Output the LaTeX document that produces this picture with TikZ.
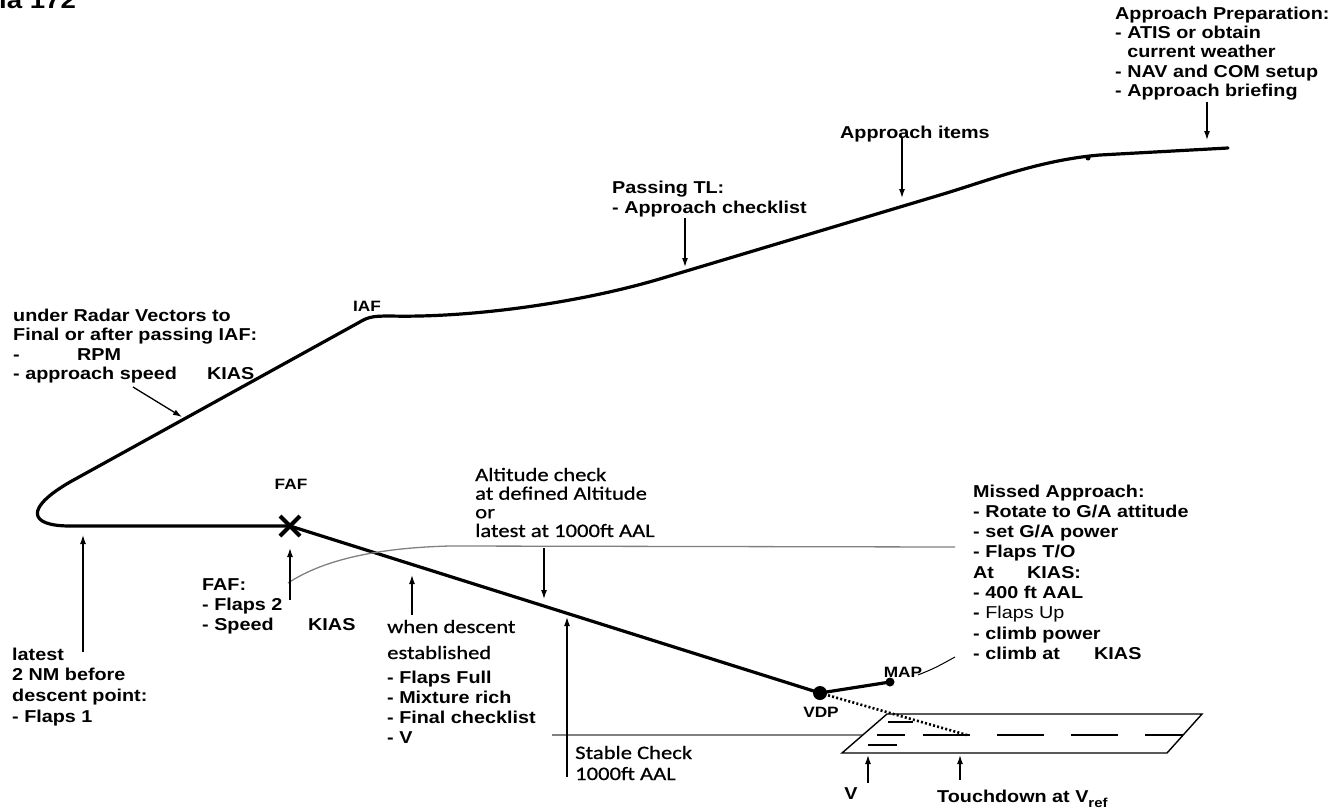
\documentclass[tikz,border=0pt]{standalone}
\usepackage{fontspec}
\setmainfont{Liberation Sans}[FakeStretch=1.15]
\newfontfamily\calib{Carlito}[FakeStretch=1.19,FakeBold=0.6]
\usetikzlibrary{arrows.meta}

\newcommand{\notelines}[1]{\begin{tabular}[t]{@{}l@{}}#1\end{tabular}}

\tikzset{
  flight/.style={line width=3.2pt, line cap=round, line join=round},
  pointer/.style={line width=1.3pt, -{Latex[length=9pt,width=6pt]}},
  altline/.style={line width=1.3pt, black!50},
  note/.style={inner sep=0pt, anchor=base west,
    font=\fontsize{17.2}{20}\selectfont\bfseries},
  calnote/.style={inner sep=0pt, anchor=base west,
    font=\calib\fontsize{19}{18.5}\selectfont},
  fixname/.style={inner sep=0pt, font=\fontsize{15}{15}\selectfont\bfseries},
}

\begin{document}
\begin{tikzpicture}[x=1pt,y=-1pt]
  \useasboundingbox (0,0) rectangle (1336,809);

  \coordinate (faf) at (290,526);
  \coordinate (vdp) at (820,693);
  \coordinate (map) at (890,682);

  % approach path down to the FAF
  \draw[flight] (faf) -- (70,526) .. controls (28,526) and (25,508) .. (70,482)
    -- (358,323) .. controls (368,317) and (372,316) .. (390,316)
    .. controls (470,318) and (580,303) .. (663,278) -- (940,195)
    .. controls (990,180) and (1040,160) .. (1100,155) -- (1228,148);
  \fill (1088,158) circle[radius=2.5pt];

  % final and missed approach
  \draw[flight] (faf) -- (vdp) -- (map);
  \draw[line width=4pt] (faf) ++(-10,-10) -- ++(20,20)
    (faf) ++(-10,10) -- ++(20,-20);
  \fill (vdp) circle[radius=7pt];
  \fill (map) circle[radius=4.5pt];
  \draw[line width=1pt] (918,675) .. controls (935,668) .. (955,657);
  \draw[line width=2.6pt, dash pattern=on 2pt off 2.2pt] (vdp) -- (967,735);

  % altitudes
  \draw[altline] (288,583) .. controls (320,562) and (370,548) .. (450,546)
    -- (955,547);
  \draw[altline] (552,735) -- (863,735);

  % runway
  \draw[line width=1.4pt] (842,753) -- (887,714) -- (1202,714) -- (1167,753) -- cycle;
  \draw[line width=1.5pt, dash pattern=on 47pt off 27pt] (923,735) -- (1183,735);
  \draw[line width=2.6pt] (888,722) -- (913,722) (877,735) -- (905,735)
    (868,745) -- (897,745);

  % fix names
  \node[fixname] (iafname) at (367,306) {IAF};
  \node[fixname] (fafname) at (291,484) {FAF};
  \node[fixname] (vdpname) at (821,712) {VDP};
  \node[fixname] (mapname) at (903,672) {MAP};

  % notes
  \node[note, font=\fontsize{24}{24}\selectfont\bfseries] (title) at (-1,8) {ia 172};
  \node[note, font=\fontsize{17.2}{19.4}\selectfont\bfseries] (prep) at (1115,19)
    {\notelines{Approach Preparation:\\- ATIS or obtain\\\phantom{- }current weather\\
     - NAV and COM setup\\- Approach briefing}};
  \node[note] (items) at (840,138) {Approach items};
  \node[note] (passtl) at (612,193) {\notelines{Passing TL:\\- Approach checklist}};
  \node[note, font=\fontsize{17.2}{19.6}\selectfont\bfseries] (radar) at (13,321)
    {\notelines{under Radar Vectors to\\Final or after passing IAF:\\
     \makebox[64pt][l]{-}RPM\\\makebox[194pt][l]{- approach speed}KIAS}};
  \node[note, font=\fontsize{17.2}{20.7}\selectfont\bfseries] (latest) at (12,660)
    {\notelines{latest\\2 NM before\\descent point:\\- Flaps 1}};
  \node[note] (fafnote) at (202,590)
    {\notelines{FAF:\\- Flaps 2\\\makebox[106pt][l]{- Speed}KIAS}};
  \node[calnote, font=\calib\fontsize{19}{26}\selectfont] (whendesc) at (387,633)
    {\notelines{when descent\\established}};
  \node[note] (desclist) at (387,683)
    {\notelines{- Flaps Full\\- Mixture rich\\- Final checklist\\- V}};
  \node[calnote] (altcheck) at (475,481)
    {\notelines{Altitude check\\at defined Altitude\\or\\latest at 1000ft AAL}};
  \node[calnote, font=\calib\fontsize{19}{21}\selectfont] (stable) at (575,759)
    {\notelines{Stable Check\\1000ft AAL}};
  \node[note, font=\fontsize{17.2}{20.3}\selectfont\bfseries] (missed) at (973,497)
    {\notelines{Missed Approach:\\- Rotate to G/A attitude\\- set G/A power\\- Flaps T/O\\
     \makebox[54pt][l]{At}KIAS:\\- 400 ft AAL\\- {\mdseries Flaps Up}\\- climb power\\
     \makebox[121pt][l]{- climb at}KIAS}};
  \node[fixname, font=\fontsize{17.2}{17.2}\selectfont\bfseries] (vname) at (851,794) {V};
  \node[note] (touchdown) at (937,802)
    {Touchdown at V\raisebox{-5pt}{\fontsize{13}{13}\selectfont ref}};

  % pointers
  \coordinate (prep-a) at (1207,102);  \coordinate (prep-b) at (1207,140);
  \coordinate (items-a) at (902,137);  \coordinate (items-b) at (902,198);
  \coordinate (passtl-a) at (685,218); \coordinate (passtl-b) at (685,267);
  \coordinate (radar-a) at (133,387);  \coordinate (radar-b) at (182,417);
  \coordinate (latest-a) at (83,652);  \coordinate (latest-b) at (83,535);
  \coordinate (fafnote-a) at (290,600); \coordinate (fafnote-b) at (290,548);
  \coordinate (when-a) at (412,615);   \coordinate (when-b) at (412,575);
  \coordinate (alt-a) at (544,548);    \coordinate (alt-b) at (544,599);
  \coordinate (stable-a) at (567,777); \coordinate (stable-b) at (567,617);
  \coordinate (v-a) at (868,783);      \coordinate (v-b) at (868,755);
  \coordinate (td-a) at (960,780);     \coordinate (td-b) at (960,755);
  \foreach \p in {prep,items,passtl,radar,latest,fafnote,when,alt,stable,v,td}
    \draw[pointer] (\p-a) -- (\p-b);
\end{tikzpicture}
\end{document}
